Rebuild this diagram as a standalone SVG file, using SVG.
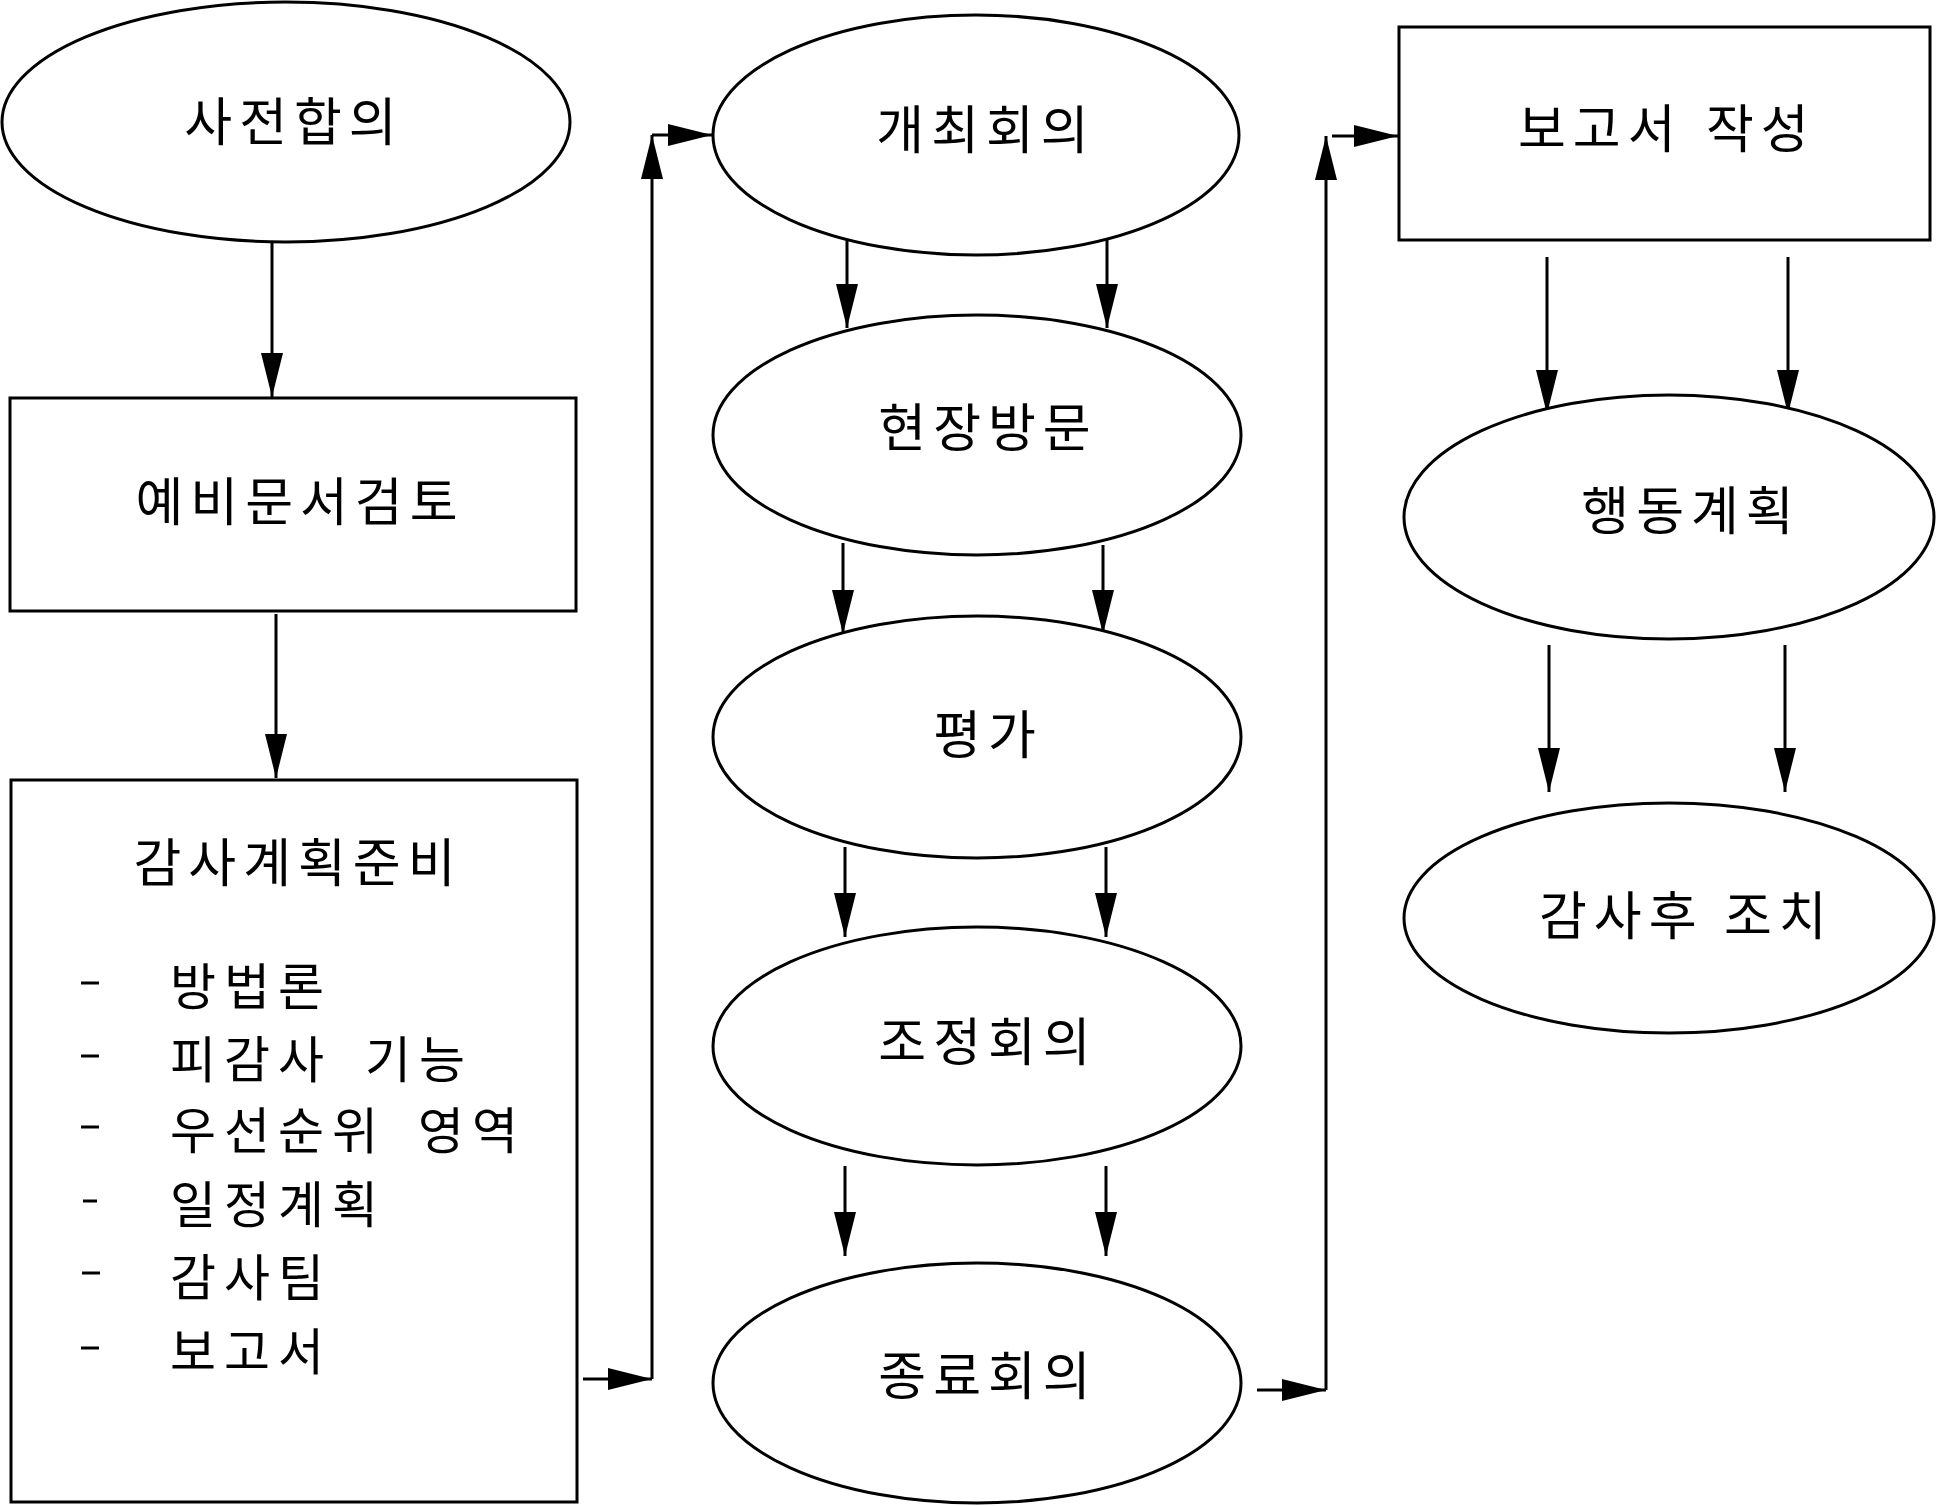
<svg xmlns="http://www.w3.org/2000/svg" width="1938" height="1506" viewBox="0 0 1938 1506">
<style>
.n{fill:#fff;stroke:#000;stroke-width:3}
.t{font-family:"Noto Sans CJK KR","Noto Sans",sans-serif;font-size:52px;fill:#000;text-anchor:middle;dominant-baseline:central;letter-spacing:7px}
.ts{font-family:"Noto Sans CJK KR","Noto Sans",sans-serif;font-size:52px;fill:#000;dominant-baseline:central;letter-spacing:7px}
.li{font-family:"Noto Sans CJK KR","Noto Sans",sans-serif;font-size:50px;fill:#000;dominant-baseline:central;letter-spacing:8px}
.c{fill:none;stroke:#000;stroke-width:3;marker-end:url(#ah)}
.d{stroke:#000;stroke-width:3}
</style>
<defs>
<marker id="ah" markerUnits="userSpaceOnUse" markerWidth="46" markerHeight="22" refX="44" refY="11" orient="auto">
<path d="M0,0 L44,11 L0,22 z" fill="#000"/>
</marker>
</defs>
<rect width="1938" height="1506" fill="#fff"/>
<g id="connectors">
<path class="c" d="M272,243 V397"/>
<path class="c" d="M276,614 V778"/>
<path class="c" d="M583,1379 H652"/>
<path class="c" d="M652,1379 V135"/>
<path class="c" d="M652,135 H712"/>
<path class="c" d="M847,238 V328"/>
<path class="c" d="M1107,236 V328"/>
<path class="c" d="M843,543 V634"/>
<path class="c" d="M1103,545 V634"/>
<path class="c" d="M845,847 V937"/>
<path class="c" d="M1106,847 V937"/>
<path class="c" d="M845,1166 V1256"/>
<path class="c" d="M1106,1166 V1256"/>
<path class="c" d="M1257,1390 H1326"/>
<path class="c" d="M1326,1390 V136"/>
<path class="c" d="M1332,136 H1398"/>
<path class="c" d="M1547,257 V414"/>
<path class="c" d="M1788,257 V414"/>
<path class="c" d="M1549,645 V792"/>
<path class="c" d="M1785,645 V792"/>
</g>
<g id="n1"><ellipse class="n" cx="286" cy="122" rx="284" ry="120"/><text class="t" x="294" y="118">사전합의</text></g>
<g id="n2"><rect class="n" x="10" y="398" width="566" height="213"/><text class="t" x="300" y="498">예비문서검토</text></g>
<g id="n3"><rect class="n" x="11" y="780" width="566" height="722"/>
<text class="t" x="298" y="859">감사계획준비</text>
<line class="d" x1="81" y1="983" x2="99" y2="983"/>
<line class="d" x1="81" y1="1056" x2="99" y2="1056"/>
<line class="d" x1="81" y1="1127" x2="99" y2="1127"/>
<line class="d" x1="83" y1="1201" x2="97" y2="1201"/>
<line class="d" x1="82" y1="1273" x2="100" y2="1273"/>
<line class="d" x1="81" y1="1348" x2="99" y2="1348"/>
<text class="li" x="170" y="983">방법론</text>
<text class="li" y="1056"><tspan x="170">피감사</tspan><tspan x="365">기능</tspan></text>
<text class="li" y="1127"><tspan x="170">우선순위</tspan><tspan x="418">영역</tspan></text>
<text class="li" x="170" y="1201">일정계획</text>
<text class="li" x="170" y="1274">감사팀</text>
<text class="li" x="170" y="1348">보고서</text>
</g>
<g id="n4"><ellipse class="n" cx="976" cy="135" rx="263" ry="120"/><text class="t" x="986" y="126">개최회의</text></g>
<g id="n5"><ellipse class="n" cx="977" cy="435" rx="264" ry="120"/><text class="t" x="988" y="424">현장방문</text></g>
<g id="n6"><ellipse class="n" cx="977" cy="737" rx="264" ry="121"/><text class="t" x="988" y="731">평가</text></g>
<g id="n7"><ellipse class="n" cx="977" cy="1046" rx="264" ry="119"/><text class="t" x="988" y="1038">조정회의</text></g>
<g id="n8"><ellipse class="n" cx="977" cy="1383" rx="264" ry="120"/><text class="t" x="988" y="1372">종료회의</text></g>
<g id="n9"><rect class="n" x="1399" y="27" width="531" height="213"/><text class="ts" y="125"><tspan x="1518">보고서</tspan><tspan x="1706">작성</tspan></text></g>
<g id="n10"><ellipse class="n" cx="1669" cy="517" rx="265" ry="122"/><text class="t" x="1691" y="507">행동계획</text></g>
<g id="n11"><ellipse class="n" cx="1669" cy="918" rx="265" ry="115"/><text class="ts" y="912"><tspan x="1539">감사후</tspan><tspan x="1724">조치</tspan></text></g>
</svg>
